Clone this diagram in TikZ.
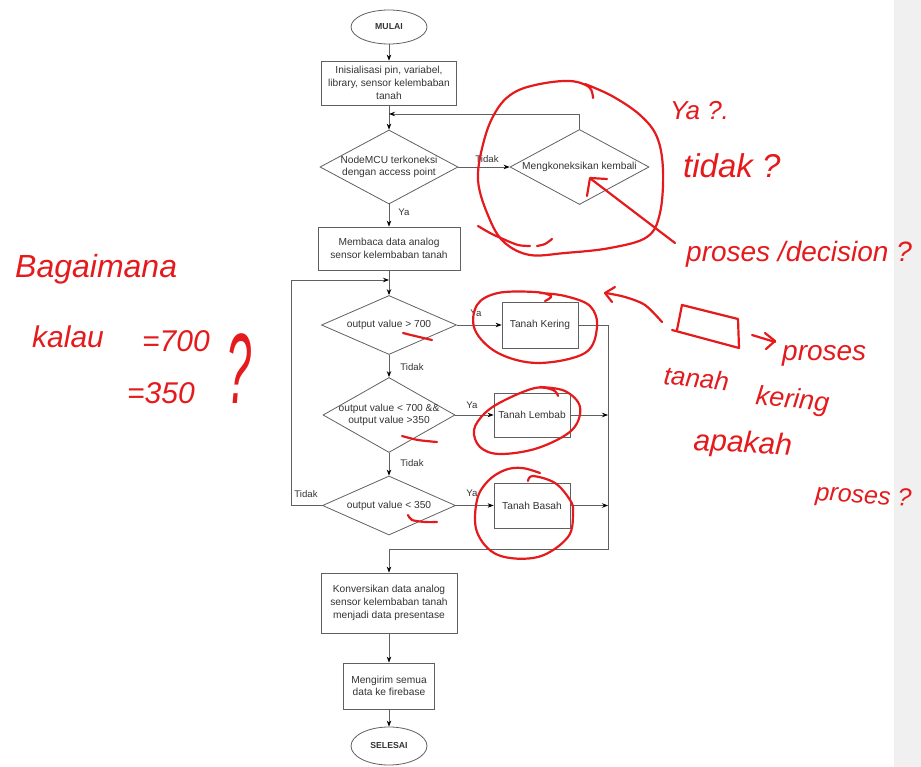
\documentclass[tikz,border=0pt]{standalone}
\usepackage{fontspec}
\setmainfont{Liberation Sans}
\usetikzlibrary{shapes.geometric,arrows.meta}
\definecolor{garis}{HTML}{606060}
\definecolor{teks}{HTML}{333333}
\definecolor{tinta}{HTML}{E41A1C}
\definecolor{pinggir}{HTML}{F0F0F0}

\begin{document}
\begin{tikzpicture}[x=1pt,y=-1pt]
        \tikzstyle{every node} = [text=teks, font=\fontsize{10.2}{12.7}\selectfont]
        \tikzstyle{terminal} = [ellipse, draw=garis, line width=0.8pt, inner sep=0pt, minimum width=76pt, minimum height=34pt, font=\fontsize{8.7}{10}\selectfont\bfseries]
        \tikzstyle{proses} = [rectangle, draw=garis, line width=0.8pt, align=center, inner sep=0pt]
        \tikzstyle{keputusan} = [diamond, draw=garis, line width=0.8pt, align=center, inner xsep=-70pt, inner ysep=-20pt, aspect=1.8]
        \tikzstyle{ket} = [font=\fontsize{9.6}{11}\selectfont, inner sep=0pt]
        \tikzstyle{panah} = [draw=garis, line width=0.8pt, -{Stealth[length=6pt,width=4.5pt,black]}]
        \tikzstyle{coret} = [draw=tinta, line width=2.2pt, line cap=round, line join=round]
        \tikzstyle{tulisan} = [text=tinta, inner sep=0pt, anchor=base west]

        \useasboundingbox (0,0) rectangle (921,767);
        \fill[pinggir] (894,0) rectangle (921,767);

        % alur utama
        \node[terminal] (mulai) at (389,27) {MULAI};
        \node[proses, minimum width=135pt, minimum height=44pt] (init) at (389,83) {Inisialisasi pin, variabel,\\library, sensor kelembaban\\tanah};
        \node[keputusan, minimum width=138pt, minimum height=74pt] (d1) at (389,167) {NodeMCU terkoneksi\\dengan access point};
        \node[keputusan, minimum width=139pt, minimum height=75pt] (d2) at (579.5,167) {Mengkoneksikan kembali};
        \node[proses, minimum width=142pt, minimum height=43pt] (baca) at (389,248.5) {Membaca data analog\\sensor kelembaban tanah};
        \node[keputusan, minimum width=135pt, minimum height=59pt] (d3) at (389,325) {output value > 700};
        \node[proses, minimum width=76pt, minimum height=46pt] (kering) at (540,325) {Tanah Kering};
        \node[keputusan, minimum width=132pt, minimum height=75pt] (d4) at (389,415) {output value < 700 \&\&\\output value >350};
        \node[proses, minimum width=76pt, minimum height=44pt] (lembab) at (532,415) {Tanah Lembab};
        \node[keputusan, minimum width=133pt, minimum height=59pt] (d5) at (389,505.5) {output value < 350};
        \node[proses, minimum width=76pt, minimum height=45pt] (basah) at (532,505.5) {Tanah Basah};
        \node[proses, minimum width=136pt, minimum height=60pt] (konversi) at (389,603) {Konversikan data analog\\sensor kelembaban tanah\\menjadi data presentase};
        \node[proses, minimum width=91pt, minimum height=46pt] (kirim) at (389,686) {Mengirim semua\\data ke firebase};
        \node[terminal, minimum height=38pt] (selesai) at (389,746) {SELESAI};

        % label cabang
        \node[ket] (tidak1) at (487,159) {Tidak};
        \node[ket] (ya1) at (404,212) {Ya};
        \node[ket] (ya2) at (476,313) {Ya};
        \node[ket] (tidak2) at (412,367) {Tidak};
        \node[ket] (ya3) at (472,405) {Ya};
        \node[ket] (tidak3) at (412,463) {Tidak};
        \node[ket] (ya4) at (472,493) {Ya};
        \node[ket] (tidak4) at (306,494) {Tidak};

        \coordinate (balik) at (389,114);
        \coordinate (kiri) at (291,505.5);
        \coordinate (ulang) at (389,280);
        \coordinate (masuk1) at (608,325);
        \coordinate (masuk2) at (608,415);
        \coordinate (masuk3) at (608,505.5);
        \coordinate (gabung1) at (608,549);
        \coordinate (gabung2) at (389,549);

        \foreach \from/\to in {mulai/init, init/d1, d1/d2, d1/baca, baca/d3, d3/kering, d3/d4,
        d4/lembab, d4/d5, d5/basah, lembab/masuk2, basah/masuk3, gabung2/konversi,
        konversi/kirim, kirim/selesai}
            \draw[panah] (\from) -- (\to);
        \draw[panah] (d2.north) |- (balik);
        \draw[panah] (d5.west) -- (kiri) |- (ulang);
        \draw[draw=garis, line width=0.8pt] (kering) -- (masuk1) -- (gabung1) -- (gabung2);

        % coretan merah
        \draw[coret] plot[smooth, tension=0.6] coordinates {(593,98) (589,87) (570,81) (540,84) (515,92) (498,108) (485,137) (478,180) (490,220) (505,243) (530,255) (565,253) (610,248) (647,237) (660,213) (663,170) (657,137) (640,115) (612,96) (585,84)};
        \draw[coret] plot[smooth] coordinates {(478,226) (490,233) (503,239) (518,245) (530,246)};
        \draw[coret] plot[smooth] coordinates {(537,246) (545,244) (552,239)};
        \draw[coret] (675,243) -- (591,179);
        \draw[coret] (587,196) -- (590,178) -- (607,179);
        \draw[coret] plot[smooth, tension=0.6] coordinates {(545,301) (551,296) (535,292) (498,293) (477,305) (475,330) (498,353) (538,363) (585,353) (597,327) (590,306) (565,296) (540,293)};
        \draw[coret] plot[smooth, tension=0.6] coordinates {(558,396) (553,390) (535,388) (505,400) (485,413) (474,430) (480,447) (500,454) (538,448) (572,430) (580,407) (565,391) (540,387)};
        \draw[coret] plot[smooth, tension=0.6] coordinates {(528,481) (533,476) (555,483) (570,500) (573,512) (568,537) (538,557) (498,555) (477,532) (477,500) (488,481) (505,470) (522,468) (540,473)};
        \draw[coret] plot[smooth] coordinates {(403,333) (415,336) (432,340)};
        \draw[coret] plot[smooth] coordinates {(402,436) (418,440) (437,442)};
        \draw[coret] plot[smooth] coordinates {(408,515) (412,520) (425,522) (437,522)};
        \draw[coret] plot[smooth] coordinates {(662,322) (645,305) (625,297) (606,293)};
        \draw[coret] (615,287) -- (605,293) -- (612,302);
        \draw[coret] (682,305) -- (738,319) -- (739,348) -- (672,330);
        \draw[coret] (682,305) -- (677,330);
        \draw[coret] (752,335) -- (775,342);
        \draw[coret] (765,333) -- (775,341) -- (766,349);

        \node[tulisan, font=\itshape\fontsize{32}{32}\selectfont] (tanya1) at (15,278) {Bagaimana};
        \node[tulisan, font=\itshape\fontsize{30}{30}\selectfont] (tanya2) at (32,347) {kalau};
        \node[tulisan, font=\itshape\fontsize{30}{30}\selectfont] (tanya3) at (142,352) {=700};
        \node[tulisan, font=\itshape\fontsize{30}{30}\selectfont] (tanya4) at (127,403) {=350};
        \node[tulisan, font=\itshape\fontsize{100}{100}\selectfont] (tanya5) at (226,403) {\scalebox{0.45}[1]{?}};
        \node[tulisan, font=\itshape\fontsize{26}{26}\selectfont] (tanya6) at (670,120) {Ya ?.};
        \node[tulisan, font=\itshape\fontsize{33}{33}\selectfont] (tanya7) at (683,178) {tidak ?};
        \node[tulisan, font=\itshape\fontsize{28}{28}\selectfont] (tanya8) at (686,262) {proses /decision ?};
        \node[tulisan, font=\itshape\fontsize{28}{28}\selectfont] (tanya9) at (782,360) {proses};
        \node[tulisan, font=\itshape\fontsize{26}{26}\selectfont, rotate=-6] (tanya10) at (663,384) {tanah};
        \node[tulisan, font=\itshape\fontsize{27}{27}\selectfont, rotate=-6] (tanya11) at (755,404) {kering};
        \node[tulisan, font=\itshape\fontsize{30}{30}\selectfont, rotate=-3] (tanya12) at (693,450) {apakah};
        \node[tulisan, font=\itshape\fontsize{25}{25}\selectfont, rotate=-4] (tanya13) at (815,500) {proses ?};
    \end{tikzpicture}
\end{document}
